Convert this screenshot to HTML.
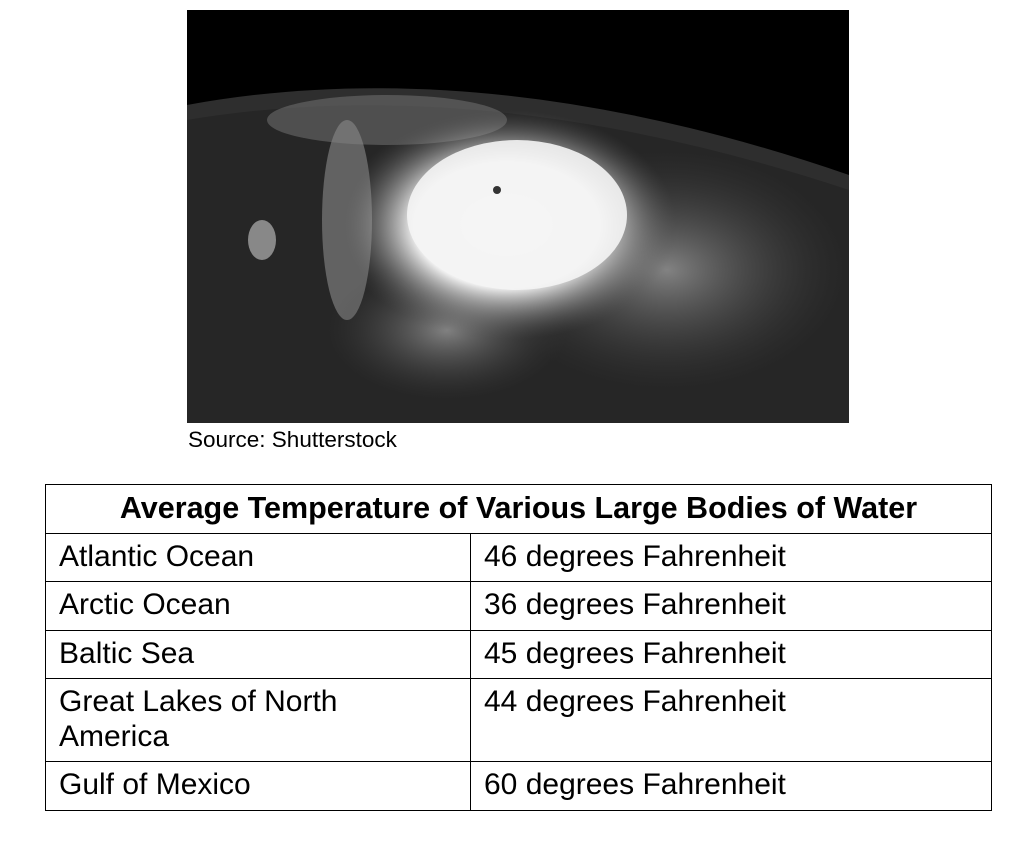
<!DOCTYPE html>
<html><head><meta charset="utf-8">
<style>
body{margin:0;background:#fff;width:1024px;height:847px;position:relative;font-family:"Liberation Sans",sans-serif;overflow:hidden}
#photo{position:absolute;left:187px;top:10px;width:662px;height:413px}
#src{position:absolute;left:188px;top:427px;font-size:22.5px;color:#000}
table{position:absolute;left:45px;top:484px;width:947px;border-collapse:collapse;font-size:30px;table-layout:fixed}
td,th{border:1.5px solid #000;padding:0 13px;vertical-align:top;text-align:left;line-height:35px}
th{text-align:center;font-weight:bold;vertical-align:middle;padding:0;font-size:30.5px}
td{padding-top:5px}
tr{height:48.5px}
</style></head><body>
<svg id="photo" viewBox="0 0 662 413" xmlns="http://www.w3.org/2000/svg">
<defs>
<radialGradient id="storm" cx="0.5" cy="0.5" r="0.5">
<stop offset="0" stop-color="#fff"/><stop offset="0.55" stop-color="#eee"/><stop offset="1" stop-color="#555" stop-opacity="0"/>
</radialGradient>
<radialGradient id="haze" cx="0.5" cy="0.5" r="0.5">
<stop offset="0" stop-color="#aaa" stop-opacity="0.7"/><stop offset="1" stop-color="#444" stop-opacity="0"/>
</radialGradient>
</defs>
<rect width="662" height="413" fill="#000"/>
<path d="M0 95 Q300 40 662 165 L662 413 L0 413 Z" fill="#2e2e2e"/>
<path d="M0 110 Q300 60 662 180 L662 413 L0 413 Z" fill="#262626"/>
<ellipse cx="200" cy="110" rx="120" ry="25" fill="#777" opacity="0.5"/>
<ellipse cx="160" cy="210" rx="25" ry="100" fill="#8a8a8a" opacity="0.6"/>
<ellipse cx="75" cy="230" rx="14" ry="20" fill="#888"/>
<ellipse cx="260" cy="320" rx="120" ry="70" fill="url(#haze)"/>
<ellipse cx="480" cy="260" rx="180" ry="120" fill="url(#haze)"/>
<ellipse cx="320" cy="215" rx="170" ry="115" fill="url(#storm)"/>
<ellipse cx="330" cy="205" rx="110" ry="75" fill="#f4f4f4" opacity="0.9"/>
<circle cx="310" cy="180" r="4" fill="#333"/>
</svg>
<div id="src">Source: Shutterstock</div>
<table>
<colgroup><col style="width:425px"><col></colgroup>
<tr><th colspan="2">Average Temperature of Various Large Bodies of Water</th></tr>
<tr><td>Atlantic Ocean</td><td>46 degrees Fahrenheit</td></tr>
<tr><td>Arctic Ocean</td><td>36 degrees Fahrenheit</td></tr>
<tr><td>Baltic Sea</td><td>45 degrees Fahrenheit</td></tr>
<tr style="height:83px"><td>Great Lakes of North<br>America</td><td>44 degrees Fahrenheit</td></tr>
<tr><td>Gulf of Mexico</td><td>60 degrees Fahrenheit</td></tr>
</table>
</body></html>
